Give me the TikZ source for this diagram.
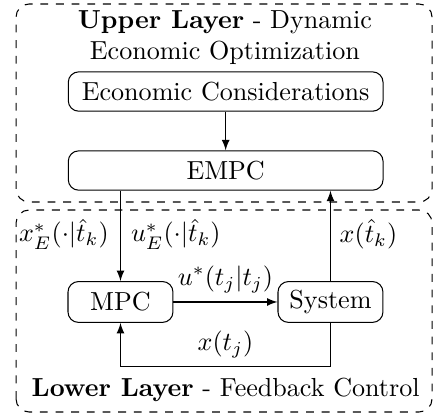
\documentclass[tikz,border=0pt]{standalone}
\usepackage{amsmath}
\usepackage{amssymb}
\usepackage{xcolor}
\usepackage{tikz}
\usetikzlibrary{shapes, arrows, positioning, calc}

\tikzset{
  block/.style={draw, rounded corners=4pt, minimum height=0.53cm, inner sep=2pt},
  layer/.style={draw, dashed, rounded corners=5pt},
}

\begin{document}
\begin{tikzpicture}
\useasboundingbox (0,0) rectangle (5.86,5.577);

% Layers
\draw[layer] (0.216,2.856) rectangle (5.82,5.523);
\draw[layer] (0.216,0.027) rectangle (5.82,2.748);

\node[align=center] (uptitle) at (3.03,5.07) {\textbf{Upper Layer} - Dynamic\\Economic Optimization};
\node (lowtitle) at (3.04,0.323) {\textbf{Lower Layer} - Feedback Control};

% Blocks
\node[block, minimum width=4.24cm] (econ) at (3.04,4.344) {Economic Considerations};
\node[block, minimum width=4.24cm] (empc) at (3.04,3.28) {EMPC};
\node[block, minimum width=1.414cm, minimum height=0.55cm] (mpc) at (1.623,1.509) {MPC};
\node[block, minimum width=1.414cm, minimum height=0.55cm] (sys) at (4.452,1.509) {System};

% Connections
\draw[-latex] (econ) -- (empc);
\draw[-latex] (empc.south -| mpc.north) -- (mpc.north);
\draw[-latex] (sys.north) -- (sys.north |- empc.south);
\draw[-latex] (mpc) -- node[above] (ulab) {$u^*(t_j|t_j)$} (sys);
\coordinate (fbl) at ($(mpc.south)+(0,-0.593)$);
\draw[-latex] (sys.south) |- node[pos=0.75, above] (xlab) {$x(t_j)$} (fbl) -- (mpc.south);

% Signals between layers
\node[left=1pt] (xe) at ($(mpc.north)+(0,0.633)$) {$x_E^*(\cdot|\hat{t}_k)$};
\node[right=0.5pt] (ue) at ($(mpc.north)+(0,0.633)$) {$u_E^*(\cdot|\hat{t}_k)$};
\node[right=0pt] (xk) at ($(sys.north)+(0,0.633)$) {$x(\hat{t}_k)$};
\end{tikzpicture}
\end{document}
